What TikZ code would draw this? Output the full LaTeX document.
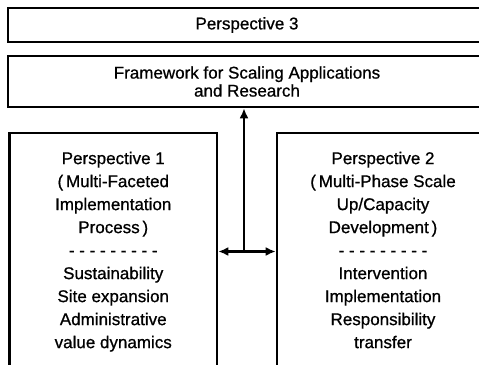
\documentclass[tikz,border=0pt]{standalone}
\usepackage{fontspec}
\setmainfont[FakeBold=0.8]{Liberation Sans}
\usetikzlibrary{arrows.meta, positioning}

\begin{document}
\begin{tikzpicture}[x=1pt, y=-1pt,
    box/.style={draw, line width=2.6pt, align=center, inner sep=0pt,
      font=\fontsize{17}{23}\selectfont},
    link/.style={line width=2.4pt}]
    % Page
    \clip (0,0) rectangle (479,364);

    % Top boxes
    \node[box, minimum width=478pt, minimum height=34pt] (p3) at (247, 25) {Perspective 3};
    \node[box, minimum width=478pt, minimum height=51pt,
      font=\fontsize{17}{18}\selectfont] (frame) at (247, 81.5)
      {Framework for Scaling Applications\\and Research};

    % Perspectives 1 and 2
    \node[box, minimum width=207.5pt, minimum height=237pt] (p1) at (113.25, 251.5)
      {\strut Perspective 1\\(\,Multi-Faceted\\Implementation\\Process\,)\\- - - - - - - - -\\Sustainability\\Site expansion\\Administrative\\value dynamics\strut};
    \node[box, minimum width=212pt, minimum height=237pt] (p2) at (383, 251.5)
      {\strut Perspective 2\\(\,Multi-Phase Scale\\Up/Capacity\\Development\,)\\- - - - - - - - -\\Intervention\\Implementation\\Responsibility\\transfer\strut};

    % Arrows
    \coordinate (hub) at (244, 251.5);
    \draw[link, -{Latex[length=10pt, width=9pt]}] (hub) -- (hub |- frame.south);
    \draw[link, {Latex[length=10pt, width=9pt]}-{Latex[length=10pt, width=9pt]}]
      (p1.east |- hub) -- (p2.west |- hub);
\end{tikzpicture}
\end{document}
